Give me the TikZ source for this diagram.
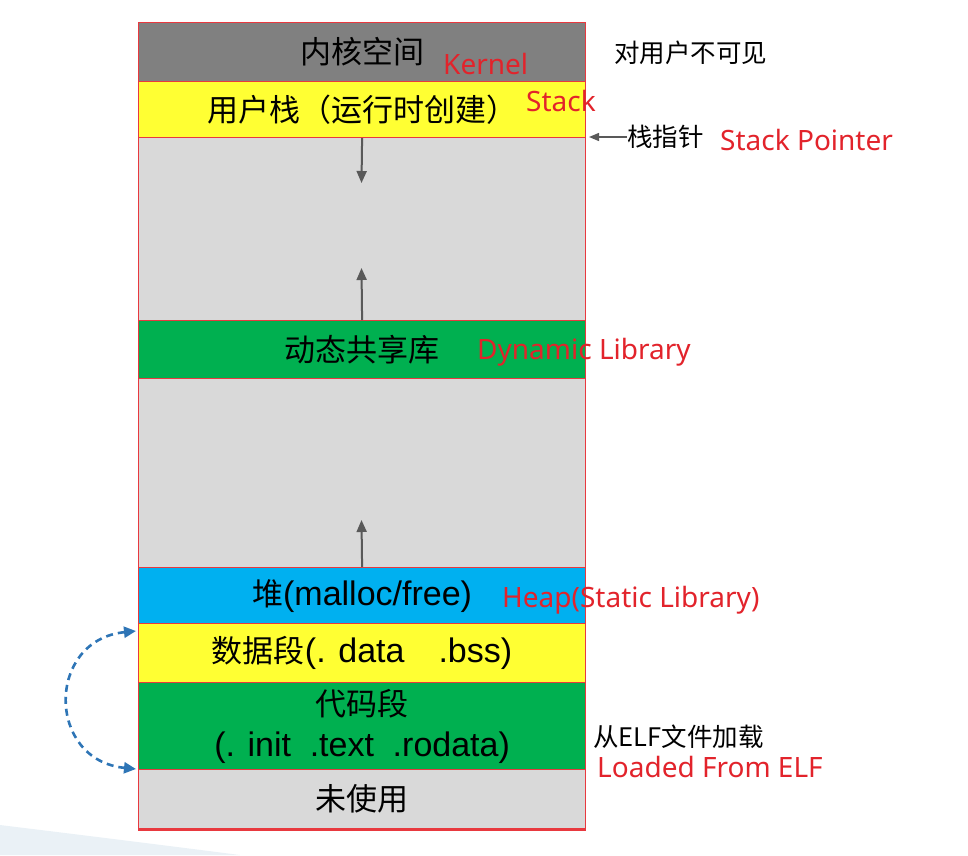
\documentclass[tikz,border=0pt]{standalone}
\usepackage{fontspec}
\setmainfont{Liberation Sans}
\newfontfamily\cjk{Noto Sans CJK SC}
\newfontfamily\lat{Liberation Sans}
\newfontfamily\lbl{Noto Sans}
\usetikzlibrary{arrows.meta}
\definecolor{kgray}{HTML}{808080}
\definecolor{lgray}{HTML}{D9D9D9}
\definecolor{syellow}{HTML}{FFFF33}
\definecolor{sgreen}{HTML}{00B050}
\definecolor{sblue}{HTML}{00B0F0}
\definecolor{bred}{HTML}{E8393F}
\definecolor{lred}{HTML}{E2232B}
\definecolor{darrow}{HTML}{595959}
\definecolor{dblue}{HTML}{2E75B6}
\definecolor{swoosh}{HTML}{EAF1F6}
\newcommand{\boxlat}{\lat\fontsize{34}{41}\selectfont}
\begin{document}
\begin{tikzpicture}[x=1pt,y=-1pt,
  band/.style={draw=bred, line width=1.2pt, minimum width=447pt, inner sep=0pt,
    anchor=north west, align=center, font=\cjk\fontsize{31}{41}\selectfont},
  redlbl/.style={text=lred, inner sep=0pt, anchor=west, font=\lbl\fontsize{28}{30}\selectfont},
  blklbl/.style={text=black, inner sep=0pt, anchor=west, font=\cjk\fontsize{25.5}{28}\selectfont},
  growarrow/.style={draw=darrow, line width=2pt, -{Triangle[length=12pt,width=10pt]}},
  loadarrow/.style={draw=dblue, line width=2.6pt, dash pattern=on 7pt off 5pt,
    {Triangle[length=12pt,width=11pt]}-{Triangle[length=12pt,width=11pt]}}
]
\useasboundingbox (0,0) rectangle (968,855);
% faint background swoosh
\fill[swoosh] (0,825) .. controls (90,836) and (170,846) .. (240,855) -- (0,855) -- cycle;

\node[band, fill=kgray, minimum height=59pt] (kernel) at (138,22) {内核空间};
\node[band, fill=syellow, minimum height=56pt] (stack) at (138,81) {用户栈（运行时创建）};
\node[band, fill=lgray, minimum height=183pt] (gap1) at (138,137) {};
\node[band, fill=sgreen, minimum height=58pt] (dyn) at (138,320) {动态共享库};
\node[band, fill=lgray, minimum height=189pt] (gap2) at (138,378) {};
\node[band, fill=sblue, minimum height=56pt] (heap) at (138,567) {堆{\boxlat (malloc/free)}};
\node[band, fill=syellow, minimum height=59pt] (data) at (138,623) {数据段{\boxlat (. data\quad .bss)}};
\node[band, fill=sgreen, minimum height=87pt] (code) at (138,682) {代码段\\{\boxlat (. init\hspace{0.55em}.text\hspace{0.55em}.rodata)}};
\node[band, fill=lgray, minimum height=59pt] (unused) at (138,769) {未使用};
\draw[bred, line width=2.6pt] (unused.south west) -- (unused.south east);

% growth arrows
\coordinate (sdown) at (361.5,183);
\coordinate (dup) at (361.5,268);
\coordinate (hup) at (361.5,520);
\draw[growarrow] (stack.south) -- (sdown);
\draw[growarrow] (dyn.north) -- (dup);
\draw[growarrow] (heap.north) -- (hup);

% red labels
\node[redlbl] (lk) at (443,64) {Kernel};
\node[redlbl] (ls) at (526,101) {Stack};
\node[redlbl] (lsp) at (720,140) {Stack Pointer};
\node[redlbl] (ldl) at (477,352) {Dynamic Library};
\node[redlbl] (lh) at (502,600) {Heap(Static Library)};
\node[redlbl] (lelf) at (597,767) {Loaded From ELF};

% black labels
\node[blklbl] (inv) at (614,53) {对用户不可见};
\node[blklbl] (sp) at (627,137) {栈指针};
\node[blklbl] (elf) at (593,737) {从ELF文件加载};
\draw[darrow, line width=1.3pt, -{Triangle[length=10pt,width=8pt]}] (sp.west) -- (589,137);

% load arrows
\coordinate (dtop) at (136,631);
\coordinate (ctop) at (136,769);
\draw[loadarrow] (dtop) .. controls (46,640) and (46,760) .. (ctop);
\end{tikzpicture}
\end{document}
